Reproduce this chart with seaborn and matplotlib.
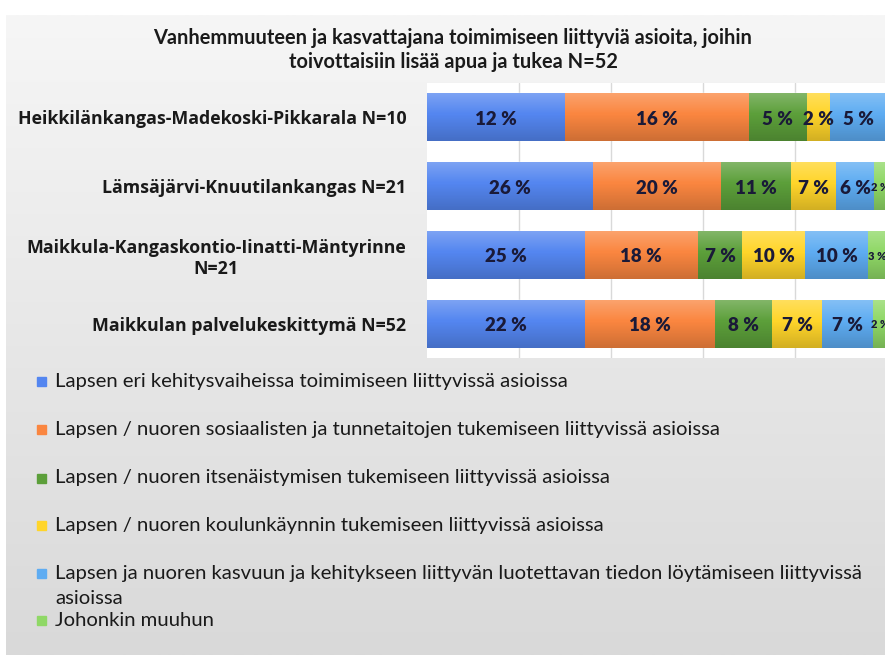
import numpy as np
import pandas as pd
import matplotlib
matplotlib.use("Agg")
import matplotlib.pyplot as plt
import seaborn as sns
from matplotlib.patches import Rectangle

# data (percent of respondents, multiple choice)
groups = [
    "Heikkilänkangas-Madekoski-Pikkarala N=10",
    "Lämsäjärvi-Knuutilankangas N=21",
    "Maikkula-Kangaskontio-Iinatti-Mäntyrinne\nN=21",
    "Maikkulan palvelukeskittymä N=52",
]
series_names = [
    "Lapsen eri kehitysvaiheissa toimimiseen liittyvissä asioissa",
    "Lapsen / nuoren sosiaalisten ja tunnetaitojen tukemiseen liittyvissä asioissa",
    "Lapsen / nuoren itsenäistymisen tukemiseen liittyvissä asioissa",
    "Lapsen / nuoren koulunkäynnin tukemiseen liittyvissä asioissa",
    "Lapsen ja nuoren kasvuun ja kehitykseen liittyvän luotettavan tiedon löytämiseen liittyvissä\nasioissa",
    "Johonkin muuhun",
]
kehitys = [12, 26, 25, 22]
sosiaaliset = [16, 20, 18, 18]
itsenaistyminen = [5, 11, 7, 8]
koulunkaynti = [2, 7, 10, 7]
tieto = [5, 6, 10, 7]
muu = [0, 2, 3, 2]

colors = ["#5486f0", "#fa8640", "#5c9f3a", "#ffd52a", "#5eacf2", "#8fd866"]

values = np.array([kehitys, sosiaaliset, itsenaistyminen, koulunkaynti, tieto, muu], dtype=float)
shares = values / values.sum(axis=0) * 100   # 100 % stacked
cum = shares.cumsum(axis=0)

sns.set_theme(style="white")
plt.rcParams["font.family"] = ["Lato", "DejaVu Sans"]

W, H = 885, 655
fig = plt.figure(figsize=(W / 100, H / 100), dpi=100, facecolor="white")

# grey gradient panel behind everything
bg = fig.add_axes([6 / W, 0, 1, (H - 15) / H], zorder=-10)
grad = np.linspace(0, 1, 256).reshape(-1, 1)
bg.imshow(grad, aspect="auto", cmap=matplotlib.colors.LinearSegmentedColormap.from_list(
    "bg", ["#f6f6f6", "#d9d9d9"]), extent=[0, 1, 1, 0])
bg.axis("off")

ax = fig.add_axes([427 / W, 1 - 358 / H, 460 / W, 275 / H])
ax.set_facecolor("white")

# stacked bars: draw cumulative totals from longest to shortest
for k in range(len(series_names) - 1, -1, -1):
    df = pd.DataFrame({"group": groups, "value": cum[k]})
    sns.barplot(data=df, x="value", y="group", orient="h", color=colors[k],
                width=0.7, linewidth=0, saturation=1, ax=ax, zorder=2)

# soft vertical gradient on each bar row
shade = np.zeros((64, 1, 4))
t = np.linspace(0, 1, 64)
shade[:, 0, :3] = np.where(t < 0.45, 1.0, 0.0)[:, None]
shade[:, 0, 3] = np.where(t < 0.45, 0.25 * (1 - t / 0.45), 0.18 * (t - 0.45) / 0.55)
for i in range(len(groups)):
    ax.imshow(shade, aspect="auto", extent=[0, 100, i + 0.35, i - 0.35], zorder=3)

# value labels
for k in range(len(series_names)):
    for i in range(len(groups)):
        v = values[k, i]
        if v == 0:
            continue
        small = k == len(series_names) - 1
        ax.text(cum[k, i] - shares[k, i] / 2, i + (0.02 if small else 0.03), f"{int(v)} %",
                ha="center", va="center", fontsize=8 if small else 13.5,
                fontweight="heavy", color="#1a1a38", zorder=4)

ax.set_xlim(0, 100)
ax.set_ylim(3.5, -0.5)
ax.set_xticks([20, 40, 60, 80])
ax.set_xticklabels([])
ax.grid(axis="x", color="#d9d9d9", linewidth=1)
ax.set_axisbelow(True)
ax.set_xlabel("")
ax.set_ylabel("")
for s in ax.spines.values():
    s.set_visible(False)
ax.tick_params(axis="y", length=0, pad=15)
ax.tick_params(axis="x", length=0)
for lab in ax.get_yticklabels():
    lab.set_fontsize(12.8)
    lab.set_fontweight("bold")
    lab.set_family(["Open Sans", "DejaVu Sans"])
    lab.set_multialignment("center")
    lab.set_color("#1a1a1a")

fig.text(453 / W, 1 - 50 / H,
         "Vanhemmuuteen ja kasvattajana toimimiseen liittyviä asioita, joihin\n"
         "toivottaisiin lisää apua ja tukea N=52",
         ha="center", va="center", fontsize=14.4, fontweight="bold",
         color="#1a1a1a", linespacing=1.3)

# legend, one entry per line as in the original
legend_y = [381, 429, 478, 525, 573, 620]
for name, col, y in zip(series_names, colors, legend_y):
    fig.patches.append(Rectangle((37 / W, 1 - (y + 5) / H), 9 / W, 9 / H,
                                 transform=fig.transFigure, color=col, figure=fig))
    if "\n" in name:
        fig.text(55 / W, 1 - (y - 8) / H, name, ha="left", va="top",
                 fontsize=14.6, color="#1a1a1a", linespacing=1.55)
    else:
        fig.text(55 / W, 1 - y / H, name, ha="left", va="center",
                 fontsize=14.6, color="#1a1a1a")

fig.savefig("out.png", dpi=100, facecolor=fig.get_facecolor())
